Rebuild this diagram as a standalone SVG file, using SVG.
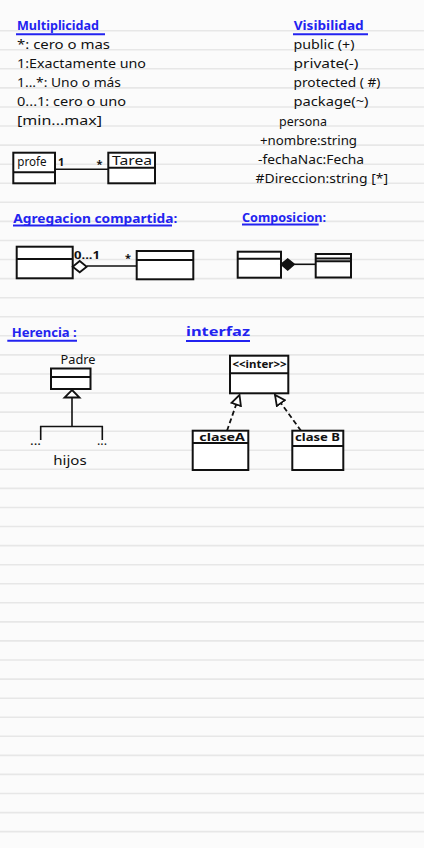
<svg xmlns="http://www.w3.org/2000/svg" width="424" height="848" viewBox="0 0 424 848">
<style>
.t{font-family:"Noto Sans","Liberation Sans",sans-serif;font-size:13px;fill:#111}
.h{font-family:"Noto Sans","Liberation Sans",sans-serif;font-size:13px;font-weight:bold;fill:#2323f0}
.ul{stroke:#2323f0;stroke-width:2;fill:none}
.box{fill:#fff;stroke:#111;stroke-width:2}
.div{stroke:#111;stroke-width:2;fill:none}
.ln{stroke:#111;stroke-width:1.6;fill:none}
.dash{stroke:#111;stroke-width:1.8;fill:none;stroke-dasharray:5 3}
.s{font-family:"Noto Sans","Liberation Sans",sans-serif;font-size:11px;font-weight:bold;fill:#111}
</style>
<defs>
<marker id="tri" viewBox="0 0 12 12" refX="11" refY="6" markerWidth="12" markerHeight="12" markerUnits="userSpaceOnUse" orient="auto">
<path d="M1,1 L11,6 L1,11 z" fill="#fff" stroke="#111" stroke-width="1.8"/>
</marker>
</defs>
<rect x="0" y="0" width="424" height="848" fill="#fbfbfb"/>
<path id="paper-lines" stroke="#e7e7e7" stroke-width="1.6" fill="none" d="M0,30.7H424M0,49.8H424M0,68.8H424M0,87.9H424M0,107H424M0,126H424M0,145.1H424M0,164.2H424M0,183.3H424M0,202.3H424M0,221.4H424M0,240.5H424M0,259.5H424M0,278.6H424M0,297.7H424M0,316.8H424M0,335.8H424M0,354.9H424M0,374H424M0,393H424M0,412.1H424M0,431.2H424M0,450.2H424M0,469.3H424M0,488.4H424M0,507.5H424M0,526.5H424M0,545.6H424M0,564.7H424M0,583.7H424M0,602.8H424M0,621.9H424M0,640.9H424M0,660H424M0,679.1H424M0,698.2H424M0,717.2H424M0,736.3H424M0,755.4H424M0,774.4H424M0,793.5H424M0,812.6H424M0,831.6H424"/>

<g id="multiplicidad">
<text class="h" x="17" y="29.5" textLength="82" lengthAdjust="spacingAndGlyphs">Multiplicidad</text>
<line class="ul" x1="16" y1="34.3" x2="105" y2="34.3"/>
<text class="t" x="17" y="49" textLength="93" lengthAdjust="spacingAndGlyphs">*: cero o mas</text>
<text class="t" x="17" y="68" textLength="129" lengthAdjust="spacingAndGlyphs">1:Exactamente uno</text>
<text class="t" x="17" y="87" textLength="104" lengthAdjust="spacingAndGlyphs">1...*: Uno o más</text>
<text class="t" x="17" y="106" textLength="109" lengthAdjust="spacingAndGlyphs">0...1: cero o uno</text>
<text class="t" x="17" y="125" textLength="85" lengthAdjust="spacingAndGlyphs">[min...max]</text>
</g>

<g id="visibilidad">
<text class="h" x="293.7" y="29.5" textLength="70" lengthAdjust="spacingAndGlyphs">Visibilidad</text>
<line class="ul" x1="293" y1="34.3" x2="368" y2="34.3"/>
<text class="t" x="293.5" y="49" textLength="61" lengthAdjust="spacingAndGlyphs">public (+)</text>
<text class="t" x="293.5" y="68" textLength="65" lengthAdjust="spacingAndGlyphs">private(-)</text>
<text class="t" x="293.5" y="87" textLength="87" lengthAdjust="spacingAndGlyphs">protected ( #)</text>
<text class="t" x="293.5" y="106" textLength="75" lengthAdjust="spacingAndGlyphs">package(~)</text>
</g>

<g id="persona">
<text class="t" x="279" y="125.5" textLength="48" lengthAdjust="spacingAndGlyphs">persona</text>
<text class="t" x="260" y="144.5" textLength="97" lengthAdjust="spacingAndGlyphs">+nombre:string</text>
<text class="t" x="258" y="163.5" textLength="106" lengthAdjust="spacingAndGlyphs">-fechaNac:Fecha</text>
<text class="t" x="255.5" y="182.5" textLength="132.5" lengthAdjust="spacingAndGlyphs">#Direccion:string [*]</text>
</g>

<g id="profe">
<rect class="box" x="13.3" y="152.7" width="41.7" height="30.6"/>
<line class="div" x1="13.3" y1="172.3" x2="55" y2="172.3"/>
<text class="t" x="17.3" y="166" textLength="29.4" lengthAdjust="spacingAndGlyphs">profe</text>
</g>
<g id="tarea">
<rect class="box" x="108.3" y="152.7" width="46.7" height="30.6"/>
<line class="div" x1="108.3" y1="167.7" x2="155" y2="167.7"/>
<text class="t" x="112" y="165" textLength="40" lengthAdjust="spacingAndGlyphs">Tarea</text>
</g>

<g id="agregacion-titulo">
<text class="h" x="13.3" y="222.5" textLength="164" lengthAdjust="spacingAndGlyphs">Agregacion compartida:</text>
<line class="ul" x1="13" y1="225.5" x2="172" y2="225.5"/>
</g>
<g id="agreg-todo">
<rect class="box" x="16.7" y="246.7" width="56" height="31.6"/>
<line class="div" x1="16.7" y1="259" x2="72.7" y2="259"/>
</g>
<g id="agreg-parte">
<rect class="box" x="136.7" y="251" width="56.6" height="28.3"/>
<line class="div" x1="136.7" y1="260" x2="193.3" y2="260"/>
</g>

<g id="composicion-titulo">
<text class="h" x="242" y="221.5" textLength="84" lengthAdjust="spacingAndGlyphs">Composicion:</text>
<line class="ul" x1="242" y1="224.5" x2="318.7" y2="224.5"/>
</g>
<g id="comp-todo">
<rect class="box" x="237.7" y="251.7" width="43.3" height="26"/>
<line class="div" x1="237.7" y1="258.7" x2="281" y2="258.7"/>
</g>
<g id="comp-parte">
<rect class="box" x="315.7" y="254" width="35.3" height="23.5"/>
<line class="div" x1="315.7" y1="258.5" x2="351" y2="258.5"/>
<line class="div" x1="315.7" y1="261.2" x2="351" y2="261.2"/>
</g>

<g id="herencia-titulo">
<text class="h" x="11.7" y="336.5" textLength="65" lengthAdjust="spacingAndGlyphs">Herencia :</text>
<line class="ul" x1="7.3" y1="340.7" x2="77" y2="340.7"/>
</g>
<g id="padre">
<text class="t" x="60.5" y="364" textLength="35" lengthAdjust="spacingAndGlyphs">Padre</text>
<rect class="box" x="51" y="368.5" width="39.5" height="20.5"/>
<line class="div" x1="51" y1="377" x2="90.5" y2="377"/>
</g>
<g id="hijos">
<text class="t" x="30" y="445" textLength="11" lengthAdjust="spacingAndGlyphs">...</text>
<text class="t" x="97" y="445" textLength="10" lengthAdjust="spacingAndGlyphs">...</text>
<text class="t" x="53.3" y="465" textLength="33.4" lengthAdjust="spacingAndGlyphs">hijos</text>
</g>

<g id="interfaz-titulo">
<text class="h" x="186" y="336" textLength="64" lengthAdjust="spacingAndGlyphs">interfaz</text>
<line class="ul" x1="186" y1="341" x2="250" y2="341"/>
</g>
<g id="inter">
<rect class="box" x="230" y="355.7" width="58.3" height="37.6"/>
<line class="div" x1="230" y1="373.3" x2="288.3" y2="373.3"/>
<text class="s" x="232.5" y="367.5" textLength="54" lengthAdjust="spacingAndGlyphs">&lt;&lt;inter&gt;&gt;</text>
</g>
<g id="claseA">
<rect class="box" x="192.7" y="430.7" width="55.6" height="39.3"/>
<line class="div" x1="192.7" y1="443" x2="248.3" y2="443"/>
<text class="s" x="199.3" y="440.5" textLength="45.7" lengthAdjust="spacingAndGlyphs">claseA</text>
</g>
<g id="claseB">
<rect class="box" x="292.3" y="430.7" width="51" height="39.3"/>
<line class="div" x1="292.3" y1="446" x2="343.3" y2="446"/>
<text class="s" x="295" y="441" textLength="45" lengthAdjust="spacingAndGlyphs">clase B</text>
</g>

<g id="connectors">
<line class="ln" x1="55" y1="169.3" x2="108.3" y2="169.3"/>
<text class="s" x="58" y="166">1</text>
<text class="s" x="96.5" y="168" font-size="13">*</text>

<polygon points="72.7,266.7 79.7,261 86.7,266.7 79.7,272.3" fill="#fff" stroke="#111" stroke-width="1.8"/>
<line class="ln" x1="86.7" y1="266" x2="136.7" y2="266"/>
<text class="s" x="74" y="258.5" textLength="26" lengthAdjust="spacingAndGlyphs">0...1</text>
<text class="s" x="125" y="262" font-size="13">*</text>

<polygon points="281,264.3 287.7,259 294.3,264.3 287.7,270" fill="#111" stroke="#111" stroke-width="1.5"/>
<line class="ln" x1="294.3" y1="264.3" x2="315.7" y2="264.3"/>

<polygon points="72,390 79.5,397.5 64.5,397.5" fill="#fff" stroke="#111" stroke-width="1.8"/>
<path class="ln" stroke-width="2" d="M72,397.5V426.5M40.7,440V426.5H102.3V440"/>

<line class="dash" x1="227" y1="430.7" x2="239.5" y2="395" marker-end="url(#tri)"/>
<line class="dash" x1="301" y1="430.7" x2="275" y2="395" marker-end="url(#tri)"/>
</g>
</svg>
